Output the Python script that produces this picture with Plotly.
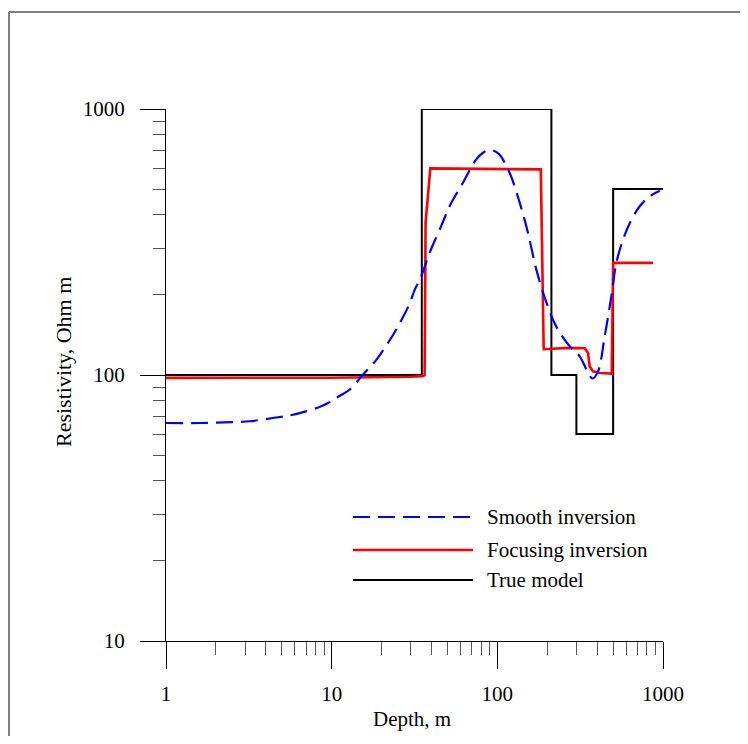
import plotly.graph_objects as go

# ---------------- data ----------------
# True model (layer boundaries and resistivities)
true_depth = [1, 35, 212, 300, 500, 1000]
true_res = [100, 1000, 100, 60, 500, 500]

# Focusing inversion
focus_depth = [1, 10, 30, 35.5, 36.4, 36.9, 39.4, 60, 100, 140, 183, 190.5, 230, 270, 337,
               353, 361, 378, 415, 490.5, 500, 871]
focus_res = [97.5, 97.7, 98.5, 99, 100, 374, 598, 597, 596, 594, 593, 125, 126, 126.5, 126,
             121, 107.8, 103.2, 101.8, 101.2, 264, 264]

# Smooth inversion
smooth_depth = [1, 1.6, 2.5, 3.2, 4.4, 5.6, 7, 8.5, 9.7, 11, 12.8, 15.4, 18.6, 21, 24.5, 29.5,
                31.7, 34.7, 39, 46, 51.5, 62, 74.6, 82, 89.8, 96, 103, 118.6, 136.5, 153, 172,
                198, 227, 274, 314, 353, 375, 405, 445, 488, 523, 574, 631, 724, 832, 957]
smooth_res = [66, 66, 66.5, 67, 68.9, 70.5, 73, 76, 79, 83, 88, 100, 114, 127, 148, 185,
              209, 235, 288, 365, 431, 528, 647, 685, 701, 695, 675, 576, 444, 343, 249,
              187, 152, 128, 117.5, 102, 97, 103, 140, 198, 264, 323, 373, 431, 470, 493]

x_tickvals = [1, 10, 100, 1000]
x_ticktext = ["1", "10", "100", "1000"]
y_tickvals = [10, 100, 1000]
y_ticktext = ["10", "100", "1000"]

series_names = ["Smooth inversion", "Focusing inversion", "True model"]

FONT = "Liberation Serif"
FS = 21
BLUE = "#0000ff"
RED = "#ff0000"
BLACK = "#000000"
DASH = "17px,8px"

fig = go.Figure()
fig.add_trace(go.Scatter(x=true_depth, y=true_res, mode="lines", line_shape="hv",
                         line=dict(color=BLACK, width=2), name=series_names[2], showlegend=False))
fig.add_trace(go.Scatter(x=focus_depth, y=focus_res, mode="lines",
                         line=dict(color=RED, width=2.6), name=series_names[1], showlegend=False))
fig.add_trace(go.Scatter(x=smooth_depth, y=smooth_res, mode="lines", line_shape="spline",
                         line=dict(color=BLUE, width=2.2, dash=DASH), name=series_names[0],
                         showlegend=False))

minor_vals = [m * 10 ** d for d in range(0, 3) for m in range(2, 10)]

fig.update_xaxes(type="log", range=[0, 3], showgrid=False, zeroline=False,
                 showline=True, linecolor=BLACK, linewidth=1,
                 tickmode="array", tickvals=x_tickvals, ticktext=x_ticktext,
                 ticks="outside", ticklen=27, tickcolor=BLACK, tickwidth=1,
                 ticklabelstandoff=7,
                 minor=dict(tickmode="array", tickvals=minor_vals, ticks="outside",
                            ticklen=13, tickcolor="#555555", tickwidth=1, showgrid=False),
                 tickfont=dict(family=FONT, size=FS, color=BLACK))
fig.update_yaxes(type="log", range=[1, 3], showgrid=False, zeroline=False,
                 showline=True, linecolor=BLACK, linewidth=1,
                 tickmode="array", tickvals=y_tickvals, ticktext=y_ticktext,
                 ticks="outside", ticklen=25, tickcolor=BLACK, tickwidth=1,
                 ticklabelstandoff=11,
                 minor=dict(tickmode="array", tickvals=[v for v in minor_vals if v >= 10],
                            ticks="outside", ticklen=12, tickcolor="#555555", tickwidth=1,
                            showgrid=False),
                 tickfont=dict(family=FONT, size=FS, color=BLACK))

# page body has an 8px margin: the figure starts at window pixel (8, 8)
OFF = 8
W, H = 732, 728
L, R, T, B = 158, 77, 101, 95
pw, ph = W - L - R, H - T - B


def px(xw):
    return (xw - OFF - L) / pw


def py(yw):
    return (H - B - (yw - OFF)) / ph


shapes = [
    # figure frame (top and left)
    dict(type="line", xref="paper", yref="paper", x0=px(9), x1=px(760), y0=py(12), y1=py(12),
         line=dict(color="#7f7f7f", width=2)),
    dict(type="line", xref="paper", yref="paper", x0=px(9), x1=px(9), y0=py(12), y1=py(760),
         line=dict(color="#7f7f7f", width=2)),
]
annotations = []
legend_styles = [dict(color=BLUE, width=2.2, dash=DASH), dict(color=RED, width=2.6),
                 dict(color=BLACK, width=2)]
legend_y = [517, 550, 580]
for name, st, yy in zip(series_names, legend_styles, legend_y):
    shapes.append(dict(type="line", xref="paper", yref="paper", x0=px(353), x1=px(473),
                       y0=py(yy), y1=py(yy), line=st))
    annotations.append(dict(xref="paper", yref="paper", x=px(485), y=py(yy), text=name,
                            showarrow=False, xanchor="left", yanchor="middle",
                            font=dict(family=FONT, size=FS, color=BLACK)))

annotations.append(dict(xref="paper", yref="paper", x=px(412), y=py(719), text="Depth, m",
                        showarrow=False, xanchor="center", yanchor="middle",
                        font=dict(family=FONT, size=FS, color=BLACK)))
annotations.append(dict(xref="paper", yref="paper", x=px(63), y=py(362),
                        text="Resistivity, Ohm m", textangle=-90,
                        showarrow=False, xanchor="center", yanchor="middle",
                        font=dict(family=FONT, size=22, color=BLACK)))

fig.update_layout(width=W, height=H, margin=dict(l=L, r=R, t=T, b=B),
                  plot_bgcolor="white", paper_bgcolor="white",
                  shapes=shapes, annotations=annotations, showlegend=False)

fig.write_html("out.html")
